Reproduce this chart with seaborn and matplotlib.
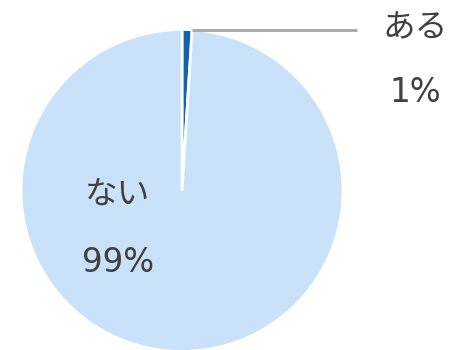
import matplotlib
matplotlib.use("Agg")
import matplotlib.pyplot as plt
import seaborn as sns

# Survey answers and their shares (%)
labels = ["ある", "ない"]
shares = [1, 99]
colors = ["#1162B2", "#C9E2FA"]

sns.set_theme(style="white")
# Latin digits from DejaVu Sans, kana from Noto Sans CJK JP
plt.rcParams["font.family"] = ["DejaVu Sans", "Noto Sans CJK JP"]

W, H = 450, 350
fig = plt.figure(figsize=(W / 100, H / 100), dpi=100)
ax = fig.add_axes([0, 0, 1, 1])

cx, cy, r = 182, H - 190.5, 161
ax.pie(shares, colors=colors, startangle=90, counterclock=False,
       center=(cx, cy), radius=r,
       wedgeprops=dict(edgecolor="white", linewidth=2))
ax.set_xlim(0, W)
ax.set_ylim(0, H)
ax.set_aspect("equal")
ax.axis("off")

text_color = "#404040"
fs = 23.5

# Leader line for the small slice
ax.plot([192, 357], [H - 30, H - 30], color="#A6A6A6", lw=2, solid_capstyle="butt")
ax.text(415, H - 28, labels[0], ha="center", va="center", fontsize=fs, color=text_color)
ax.text(415, H - 92, f"{shares[0]}%", ha="center", va="center", fontsize=fs, color=text_color)

ax.text(118, H - 195, labels[1], ha="center", va="center", fontsize=fs, color=text_color)
ax.text(118, H - 262, f"{shares[1]}%", ha="center", va="center", fontsize=fs, color=text_color)

fig.savefig("out.png", dpi=100)
